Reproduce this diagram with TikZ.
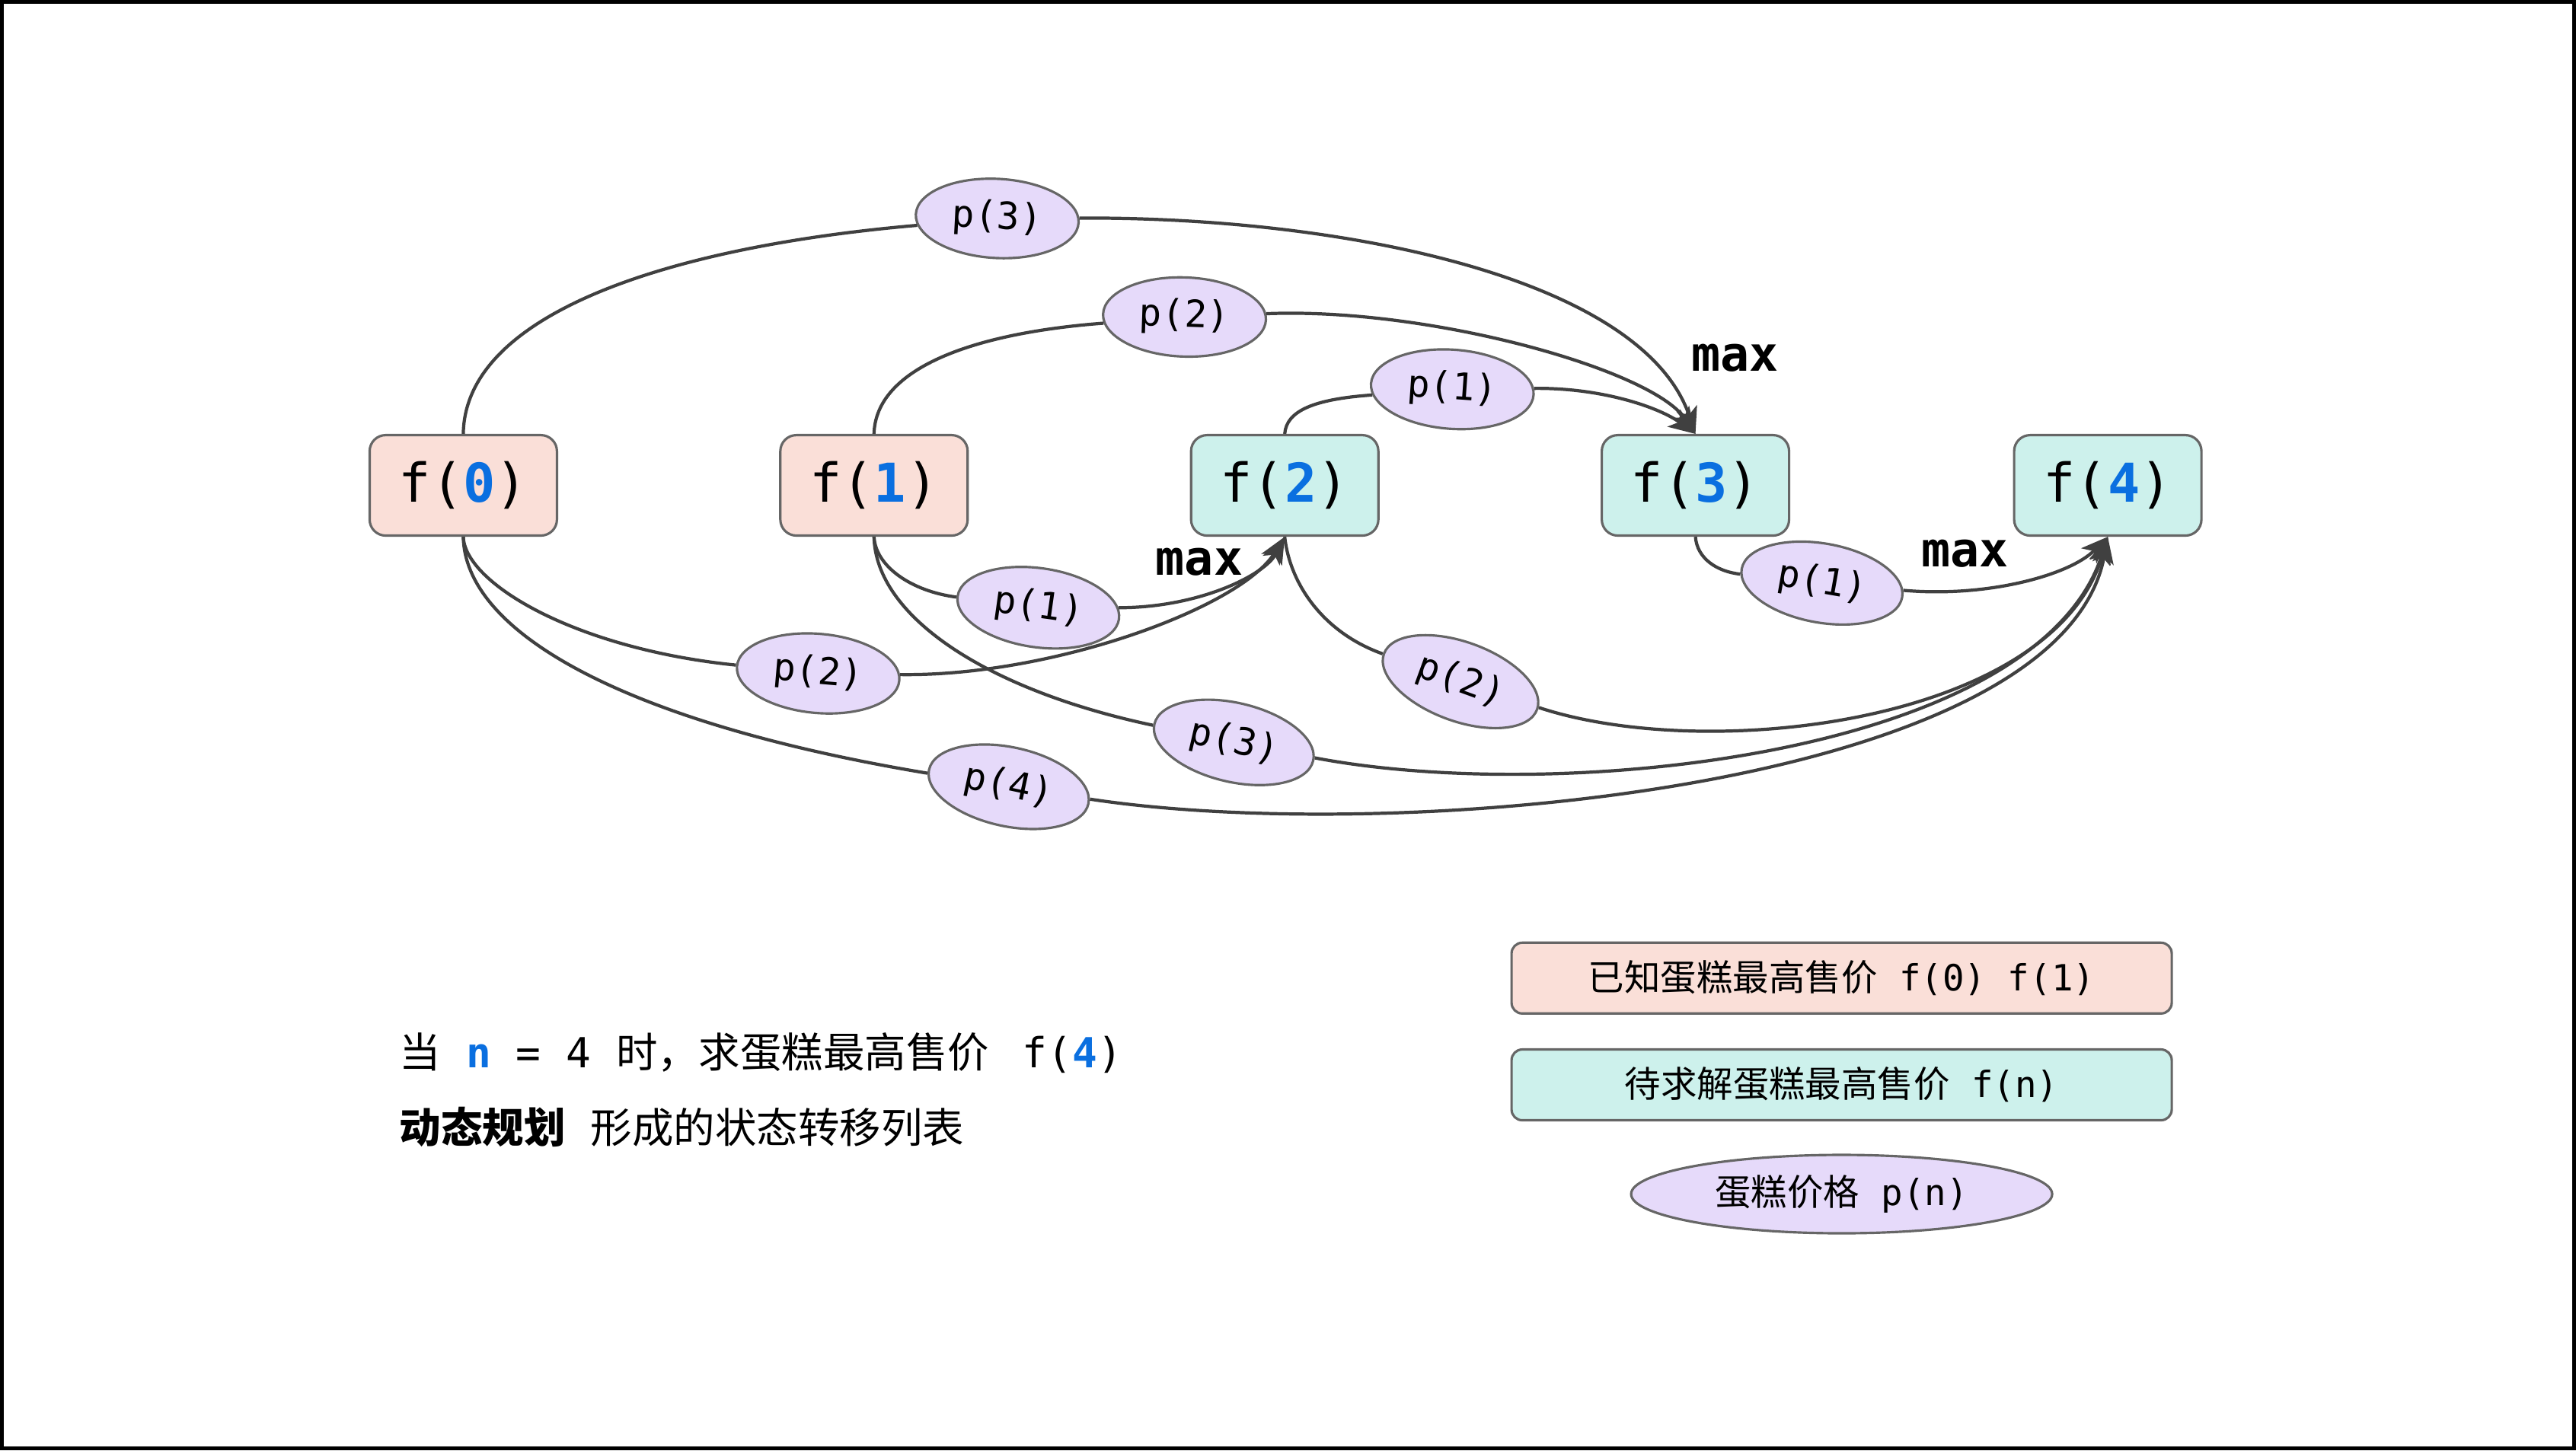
\documentclass[tikz,border=0pt]{standalone}
\usepackage{fontspec}
\usetikzlibrary{shapes.geometric,arrows.meta}
\newfontfamily\monof{DejaVu Sans Mono}
\newfontfamily\cjkf{Noto Sans CJK SC}
\definecolor{edgec}{HTML}{404040}
\definecolor{pinkf}{HTML}{FADFD8}
\definecolor{tealf}{HTML}{CDF1EC}
\definecolor{lavf}{HTML}{E6DAFA}
\definecolor{blu}{HTML}{0A6FE0}
\definecolor{bordc}{HTML}{666666}
\begin{document}
\begin{tikzpicture}[x=0.021575cm,y=-0.021575cm,
 fbox/.style={draw=bordc,line width=0.9pt,rounded corners=6pt,minimum width=2.46cm,minimum height=1.32cm,inner sep=0pt,font=\monof\fontsize{20}{24}\selectfont},
 known/.style={fbox,fill=pinkf},
 want/.style={fbox,fill=tealf},
 pell/.style={ellipse,draw=bordc,line width=0.9pt,fill=lavf,minimum width=2.14cm,minimum height=1.04cm,inner sep=0pt,font=\monof\fontsize{14}{16}\selectfont},
 link/.style={draw=edgec,line width=1.2pt},
 arr/.style={link,-{Stealth[length=10pt,width=8pt,inset=2.5pt]}},
 maxl/.style={font=\monof\bfseries\fontsize{18}{20}\selectfont},
 legbox/.style={draw=bordc,line width=0.9pt,rounded corners=4pt,minimum width=8.67cm,minimum height=0.93cm,inner sep=0pt,font=\monof\fontsize{13.5}{16}\selectfont},
]
\useasboundingbox (0,0) rectangle (1568,883);
\draw[line width=0.05cm,black] (1.16,1.16) rectangle (1566.84,881.84);

% state nodes
\node[known] (f0) at (282,295.5) {f(\textcolor{blu}{\bfseries 0})};
\node[known] (f1) at (532,295.5) {f(\textcolor{blu}{\bfseries 1})};
\node[want] (f2) at (782,295.5) {f(\textcolor{blu}{\bfseries 2})};
\node[want] (f3) at (1032,295.5) {f(\textcolor{blu}{\bfseries 3})};
\node[want] (f4) at (1283,295.5) {f(\textcolor{blu}{\bfseries 4})};

% price ellipses
\node[pell,rotate=-3] (pA) at (607,133) {p(3)};
\node[pell,rotate=-2] (pB) at (721,193) {p(2)};
\node[pell,rotate=-4] (pC) at (884,237) {p(1)};
\node[pell,rotate=-8] (pD) at (632,370) {p(1)};
\node[pell,rotate=-5] (pE) at (498,410) {p(2)};
\node[pell,rotate=-13] (pF) at (751,452) {p(3)};
\node[pell,rotate=-12] (pG) at (614,479) {p(4)};
\node[pell,rotate=-20] (pH) at (889,415) {p(2)};
\node[pell,rotate=-10] (pI) at (1109,355) {p(1)};

% edges into f(3)
\draw[link] (f0.north) .. controls (283,190) and (410,150) .. (pA);
\draw[arr] (pA) .. controls (820,132) and (1000,170) .. (f3.north);
\draw[link] (f1.north) .. controls (533,225) and (590,203) .. (pB);
\draw[arr] (pB) .. controls (870,187) and (1005,225) .. (f3.north);
\draw[link] (f2.north) .. controls (783,250) and (800,243) .. (pC);
\draw[arr] (pC) .. controls (975,236) and (1010,248) .. (f3.north);

% edges into f(2)
\draw[link] (f1.south) .. controls (533,345) and (555,360) .. (pD);
\draw[arr] (pD) .. controls (730,370) and (770,350) .. (f2.south);
\draw[link] (f0.south) .. controls (283,355) and (350,395) .. (pE);
\draw[arr] (pE) .. controls (640,412) and (755,370) .. (f2.south);

% edges into f(4)
\draw[link] (f2.south) .. controls (785,355) and (805,385) .. (pH);
\draw[arr] (pH) .. controls (1040,465) and (1250,440) .. (f4.south);
\draw[link] (f1.south) .. controls (533,375) and (600,420) .. (pF);
\draw[arr] (pF) .. controls (950,490) and (1240,460) .. (f4.south);
\draw[link] (f0.south) .. controls (283,385) and (380,440) .. (pG);
\draw[arr] (pG) .. controls (850,515) and (1255,480) .. (f4.south);
\draw[link] (f3.south) .. controls (1033,340) and (1045,348) .. (pI);
\draw[arr] (pI) .. controls (1210,364) and (1260,350) .. (f4.south);

% max labels
\node[maxl] (m3) at (1056,218) {max};
\node[maxl] (m2) at (730,342) {max};
\node[maxl] (m4) at (1196,337) {max};

% caption
\node[anchor=west,inner sep=0pt,font=\monof\fontsize{15.5}{18}\selectfont] (cap1) at (243,641)
 {{\cjkf 当}\ {\bfseries\color{blu}n}\ =\ 4\ {\cjkf 时，求蛋糕最高售价}\hspace{0.8em}f({\bfseries\color{blu}4})};
\node[anchor=west,inner sep=0pt,font=\monof\fontsize{15.5}{18}\selectfont] (cap2) at (243,686)
 {{\cjkf\bfseries 动态规划}\ {\cjkf 形成的状态转移列表}};

% legend
\node[legbox,fill=pinkf] (lg1) at (1121,595.5) {{\cjkf 已知蛋糕最高售价}\ f(0)\ f(1)};
\node[legbox,fill=tealf] (lg2) at (1121,660.5) {{\cjkf 待求解蛋糕最高售价}\ f(n)};
\node[ellipse,draw=bordc,line width=0.9pt,fill=lavf,minimum width=5.53cm,minimum height=1.03cm,inner sep=0pt,font=\monof\fontsize{13.5}{16}\selectfont] (lg3) at (1121,727) {{\cjkf 蛋糕价格}\ p(n)};
\end{tikzpicture}
\end{document}
